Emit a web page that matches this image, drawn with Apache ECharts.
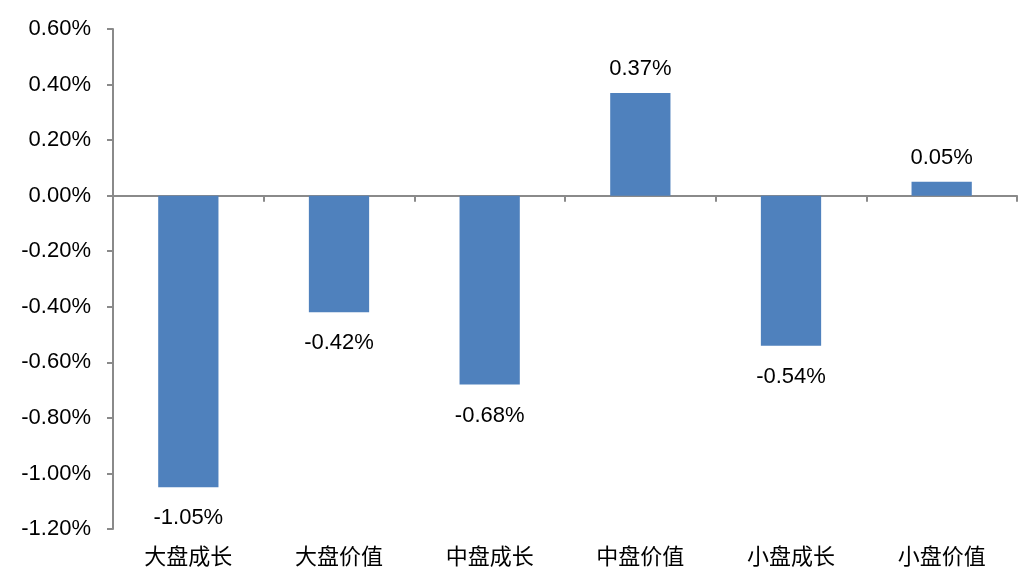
<!DOCTYPE html>
<html>
<head>
<meta charset="utf-8">
<script src="https://cdn.jsdelivr.net/npm/echarts@6/dist/echarts.min.js"></script>
<style>
html,body{margin:0;padding:0;background:#fff;}
#chart{width:1029px;height:588px;}
</style>
</head>
<body>
<div id="chart"></div>
<script>
const categories = ['大盘成长', '大盘价值', '中盘成长', '中盘价值', '小盘成长', '小盘价值'];
const values = [-1.05, -0.42, -0.68, 0.37, -0.54, 0.05];
const yMin = -1.2, yMax = 0.6, yStep = 0.2;

const chart = echarts.init(document.getElementById('chart'), null, {renderer: 'canvas'});
const numFont = '"Liberation Sans", Arial, sans-serif';
const axisColor = '#8a8a8a';

chart.setOption({
  animation: false,
  backgroundColor: '#ffffff',
  grid: {left: 113, right: 12, top: 29, bottom: 59, containLabel: false},
  xAxis: [
    {
      type: 'category', data: categories, position: 'bottom',
      axisLine: {show: false, onZero: false}, axisTick: {show: false}, splitLine: {show: false},
      axisLabel: {color: '#000', fontSize: 22, fontFamily: '"Noto Sans CJK SC", sans-serif', margin: 16}
    },
    {
      type: 'category', data: categories, position: 'top',
      axisLine: {show: true, onZero: true, lineStyle: {color: axisColor, width: 2}},
      axisTick: {show: true, inside: true, length: 6, lineStyle: {color: axisColor, width: 2}},
      axisLabel: {show: false}, splitLine: {show: false}
    }
  ],
  yAxis: {
    type: 'value', min: yMin, max: yMax, interval: yStep,
    axisLine: {show: true, lineStyle: {color: axisColor, width: 2}},
    axisTick: {show: true, length: 6, lineStyle: {color: axisColor, width: 2}},
    splitLine: {show: false},
    axisLabel: {
      color: '#000', fontSize: 22, fontFamily: numFont, margin: 22,
      formatter: v => v.toFixed(2) + '%'
    }
  },
  series: [{
    type: 'bar',
    xAxisIndex: 0,
    barWidth: '40%',
    itemStyle: {color: '#4F81BD'},
    data: values.map(v => ({
      value: v,
      label: {position: v < 0 ? 'bottom' : 'top', distance: v < 0 ? 20 : 13}
    })),
    label: {
      show: true, color: '#000', fontSize: 22, fontFamily: numFont,
      formatter: p => p.value.toFixed(2) + '%'
    }
  }]
});
</script>
</body>
</html>
